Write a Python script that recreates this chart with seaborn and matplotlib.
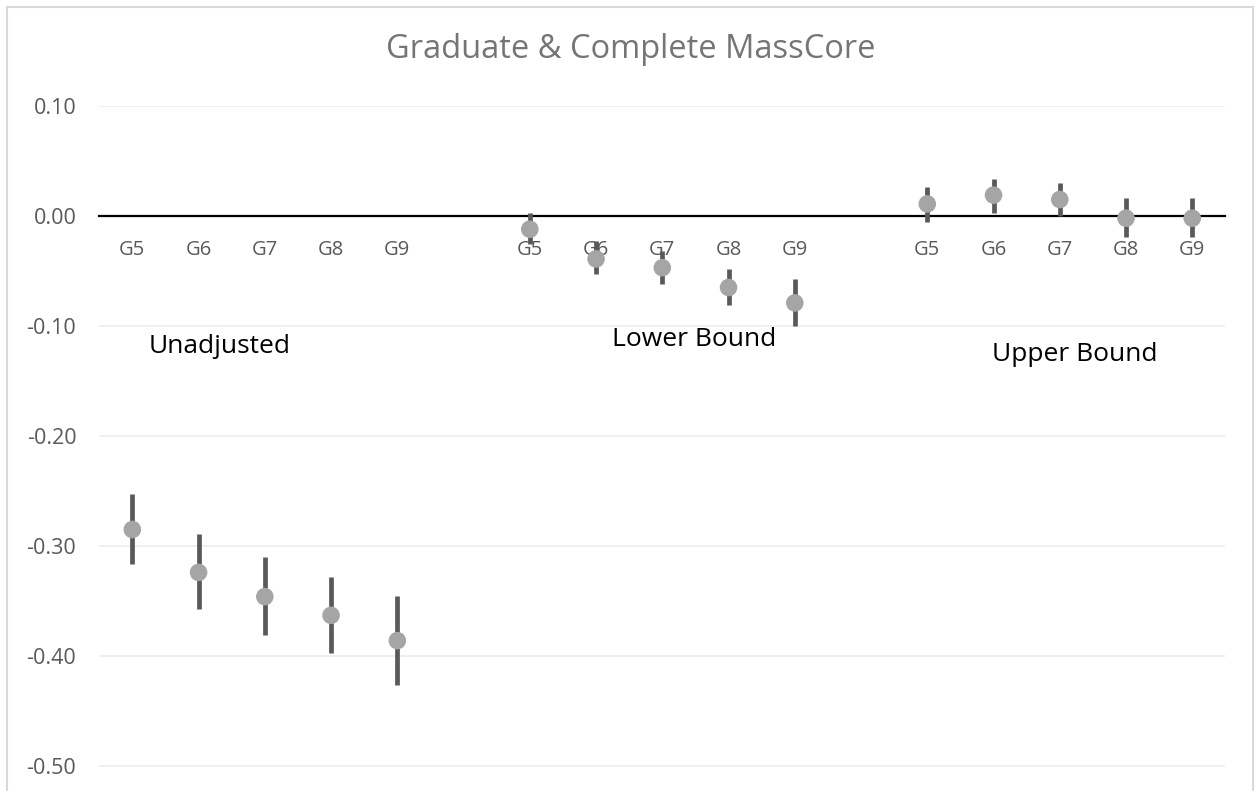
import numpy as np
import pandas as pd
import seaborn as sns
import matplotlib.pyplot as plt
from matplotlib.patches import Rectangle

# estimates and interval ends
groups = ["Unadjusted", "Lower Bound", "Upper Bound"]
grades = ["G5", "G6", "G7", "G8", "G9"]
unadj_est = [-0.285, -0.324, -0.346, -0.363, -0.386]
unadj_low = [-0.316, -0.357, -0.381, -0.397, -0.426]
unadj_high = [-0.253, -0.289, -0.310, -0.328, -0.345]
lower_est = [-0.012, -0.039, -0.047, -0.065, -0.079]
lower_low = [-0.025, -0.053, -0.062, -0.081, -0.100]
lower_high = [0.003, -0.023, -0.032, -0.048, -0.057]
upper_est = [0.011, 0.019, 0.015, -0.002, -0.002]
upper_low = [-0.005, 0.003, 0.000, -0.019, -0.019]
upper_high = [0.026, 0.034, 0.030, 0.016, 0.016]

est = [unadj_est, lower_est, upper_est]
low = [unadj_low, lower_low, upper_low]
high = [unadj_high, lower_high, upper_high]

rows = []
for g, name in enumerate(groups):
    for i, gr in enumerate(grades):
        rows.append({"group": name, "grade": gr, "pos": g * 6 + i,
                     "est": est[g][i], "low": low[g][i], "high": high[g][i]})
df = pd.DataFrame(rows)

sns.set_theme(style="white")
plt.rcParams["font.family"] = ["Open Sans", "DejaVu Sans"]

W, H = 1255, 791
fig = plt.figure(figsize=(W / 100, H / 100), dpi=100)
ax = fig.add_axes([99.2 / W, 0, (1225.4 - 99.2) / W, (H - 106) / H])

ax.vlines(df["pos"], df["low"], df["high"], color="#595959", lw=3.4, zorder=2)
sns.scatterplot(data=df, x="pos", y="est", ax=ax, color="#a5a5a5", s=160,
                edgecolor="none", linewidth=0, zorder=3, legend=False)

yt = [0.10, 0.0, -0.10, -0.20, -0.30, -0.40, -0.50]
ax.set_xlim(-0.5, 16.5)
ax.set_ylim(-0.5227, 0.10)
ax.set_yticks(yt)
ax.set_yticklabels([f"{v:.2f}" for v in yt])
ax.yaxis.grid(True, color="#eeeeee", lw=1.3)
ax.set_axisbelow(True)
ax.tick_params(axis="y", length=0, pad=16.5, labelsize=15.5, labelcolor="#595959")

ax.set_xticks(df["pos"])
ax.set_xticklabels(df["grade"])
ax.tick_params(axis="x", length=0, pad=17.5, labelsize=14.5, labelcolor="#595959")
ax.spines["bottom"].set_position(("data", 0))
ax.spines["bottom"].set_color("black")
ax.spines["bottom"].set_linewidth(1.6)
ax.spines["bottom"].set_zorder(1.5)
for s in ["left", "right", "top"]:
    ax.spines[s].set_visible(False)
ax.set_xlabel("")
ax.set_ylabel("")
ax.patch.set_alpha(0)

# group captions
ax.text(0.24, -0.119, "Unadjusted", fontsize=19, color="black", va="center", ha="left")
ax.text(7.24, -0.112, "Lower Bound", fontsize=19, color="black", va="center", ha="left")
ax.text(12.98, -0.1255, "Upper Bound", fontsize=19, color="black", va="center", ha="left")

fig.text(631 / W, 1 - 49 / H, "Graduate & Complete MassCore", ha="center", va="center",
         fontsize=23.5, color="#757575")

fig.patches.append(Rectangle((7 / W, -0.1), (1253 - 7) / W, 1.1 - 7 / H,
                             transform=fig.transFigure, fill=False,
                             edgecolor="#d9d9d9", lw=1.5))

fig.savefig("out.png", dpi=100)
